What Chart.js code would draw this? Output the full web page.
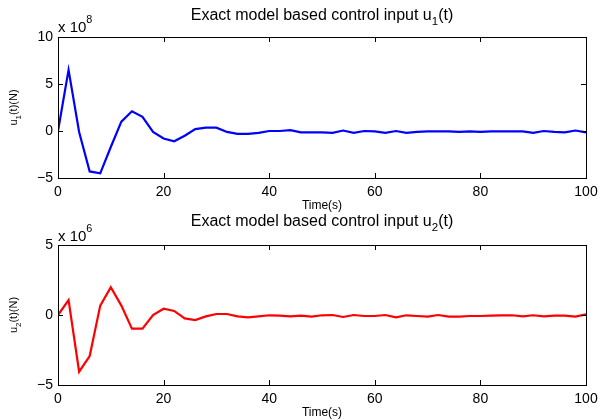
<!DOCTYPE html>
<html>
<head>
<meta charset="utf-8">
<script src="https://cdn.jsdelivr.net/npm/chart.js@4"></script>
<style>
html, body { margin: 0; padding: 0; background: #fff; }
#wrap { position: relative; width: 598px; height: 419px; }
.panel { position: absolute; left: 0; width: 598px; }
</style>
</head>
<body>
<div id="wrap">
    <div class="panel" style="top:0;height:216px"><canvas id="c1"></canvas></div>
    <div class="panel" style="top:209px;height:210px"><canvas id="c2"></canvas></div>
</div>
<script>
// Data (sampled every 2 s)
const time = [0, 2, 4, 6, 8, 10, 12, 14, 16, 18, 20, 22, 24, 26, 28, 30, 32, 34, 36, 38, 40,
    42, 44, 46, 48, 50, 52, 54, 56, 58, 60, 62, 64, 66, 68, 70, 72, 74, 76, 78, 80,
    82, 84, 86, 88, 90, 92, 94, 96, 98, 100];

// u1 in units of 1e8 N
const u1 = [0, 6.5, -0.1, -4.3, -4.5, -1.7, 1.0, 2.1, 1.5, -0.1, -0.8, -1.1, -0.5, 0.2, 0.35, 0.35,
    -0.1, -0.3, -0.3, -0.2, 0, 0, 0.1, -0.15, -0.15, -0.15, -0.2, 0.05, -0.2, 0, -0.05,
    -0.2, 0, -0.2, -0.1, -0.05, -0.05, -0.05, -0.1, -0.05, -0.1, -0.05, -0.05, -0.05, -0.05,
    -0.2, 0, -0.1, -0.15, 0.05, -0.15];

// u2 in units of 1e6 N
const u2 = [0, 1.07, -4.05, -2.93, 0.67, 1.98, 0.67, -0.98, -0.98, 0, 0.45, 0.29, -0.24, -0.36, -0.1, 0.07,
    0.07, -0.1, -0.17, -0.1, -0.02, -0.05, -0.1, -0.05, -0.12, -0.02, 0, -0.14, 0, -0.07, -0.07,
    0, -0.17, -0.02, -0.07, -0.12, 0, -0.12, -0.12, -0.07, -0.07, -0.05, -0.02, -0.02, -0.1,
    -0.02, -0.1, -0.05, -0.05, -0.12, 0.05];

const timeTicks = [0, 20, 40, 60, 80, 100];
const u1Ticks = [-5, 0, 5, 10];
const u2Ticks = [-5, 0, 5];

const FONT = '"Liberation Sans", Arial, Helvetica, sans-serif';

// draw text made of parts, some subscript / superscript
function drawParts(ctx, parts, x, y, size, align) {
    const widths = parts.map(p => {
        ctx.font = ((p.sub || p.sup) ? size * 0.72 : size) + 'px ' + FONT;
        return ctx.measureText(p.t).width;
    });
    const total = widths.reduce((a, b) => a + b, 0);
    let cx = align === 'center' ? x - total / 2 : x;
    ctx.textBaseline = 'middle';
    ctx.textAlign = 'left';
    parts.forEach((p, i) => {
        ctx.font = ((p.sub || p.sup) ? size * 0.72 : size) + 'px ' + FONT;
        let dy = 0;
        if (p.sub) dy = size * 0.4;
        if (p.sup) dy = -size * 0.5;
        ctx.fillText(p.t, cx, y + dy);
        cx += widths[i];
    });
}

const matlabFrame = {
    id: 'matlabFrame',
    afterDraw(chart, args, opts) {
        const ctx = chart.ctx;
        const a = chart.chartArea;
        const xs = chart.scales.x, ys = chart.scales.y;
        ctx.save();
        ctx.fillStyle = '#000';
        ctx.strokeStyle = '#000';
        ctx.lineWidth = 1;

        // box
        ctx.strokeRect(Math.round(a.left) + 0.5, Math.round(a.top) + 0.5,
            Math.round(a.right - a.left), Math.round(a.bottom - a.top));

        // inward ticks
        const len = 5;
        ctx.beginPath();
        xs.ticks.forEach(t => {
            const px = Math.round(xs.getPixelForValue(t.value)) + 0.5;
            ctx.moveTo(px, a.bottom); ctx.lineTo(px, a.bottom - len);
            ctx.moveTo(px, a.top); ctx.lineTo(px, a.top + len);
        });
        ys.ticks.forEach(t => {
            const py = Math.round(ys.getPixelForValue(t.value)) + 0.5;
            ctx.moveTo(a.left, py); ctx.lineTo(a.left + len, py);
            ctx.moveTo(a.right, py); ctx.lineTo(a.right - len, py);
        });
        ctx.stroke();

        // title
        drawParts(ctx, opts.title, (a.left + a.right) / 2, opts.titleY, 16, 'center');
        // exponent
        drawParts(ctx, [{ t: 'x 10' }, { t: opts.exp, sup: true }], a.left, opts.expY, 15, 'left');
        // x label
        drawParts(ctx, [{ t: 'Time(s)' }], (a.left + a.right) / 2, opts.xLabelY, 12, 'center');
        // y label
        ctx.translate(14, (a.top + a.bottom) / 2);
        ctx.rotate(-Math.PI / 2);
        drawParts(ctx, opts.yLabel, 0, 0, 11, 'center');
        ctx.restore();
    }
};

function makeChart(id, values, color, yTicks, xHeight, topPad, frameOpts) {
    const ctx = document.getElementById(id).getContext('2d');
    return new Chart(ctx, {
        type: 'line',
        data: {
            datasets: [{
                data: time.map((t, i) => ({ x: t, y: values[i] })),
                borderColor: color,
                borderWidth: 2.2,
                pointRadius: 0,
                tension: 0,
                fill: false
            }]
        },
        options: {
            responsive: true,
            maintainAspectRatio: false,
            animation: false,
            layout: { padding: { top: topPad, right: 12, left: 0, bottom: 0 } },
            plugins: {
                legend: { display: false },
                tooltip: { enabled: false },
                matlabFrame: frameOpts
            },
            scales: {
                x: {
                    type: 'linear',
                    min: 0, max: 100,
                    afterBuildTicks: s => { s.ticks = timeTicks.map(v => ({ value: v })); },
                    afterFit: s => { s.height = xHeight; s.paddingLeft = 0; s.paddingRight = 0; },
                    grid: { display: false, drawTicks: false },
                    border: { display: false },
                    ticks: { color: '#000', padding: 6, maxRotation: 0, font: { family: FONT, size: 14 } }
                },
                y: {
                    min: yTicks[0], max: yTicks[yTicks.length - 1],
                    afterBuildTicks: s => { s.ticks = yTicks.map(v => ({ value: v })); },
                    afterFit: s => { s.width = 58; s.paddingTop = 0; s.paddingBottom = 0; },
                    grid: { display: false, drawTicks: false },
                    border: { display: false },
                    ticks: {
                        color: '#000', padding: 5, font: { family: FONT, size: 14 },
                        callback: v => (v < 0 ? '\u2212' + Math.abs(v) : String(v))
                    }
                }
            }
        },
        plugins: [matlabFrame]
    });
}

makeChart('c1', u1, '#0000ff', u1Ticks, 38, 37, {
    title: [{ t: 'Exact model based control input u' }, { t: '1', sub: true }, { t: '(t)' }],
    titleY: 15.5, expY: 28, xLabelY: 206, exp: '8',
    yLabel: [{ t: 'u' }, { t: '1', sub: true }, { t: '(t)(N)' }]
});

makeChart('c2', u2, '#ff0000', u2Ticks, 34, 36, {
    title: [{ t: 'Exact model based control input u' }, { t: '2', sub: true }, { t: '(t)' }],
    titleY: 12.5, expY: 27.5, xLabelY: 203.5, exp: '6',
    yLabel: [{ t: 'u' }, { t: '2', sub: true }, { t: '(t)(N)' }]
});
</script>
</body>
</html>
